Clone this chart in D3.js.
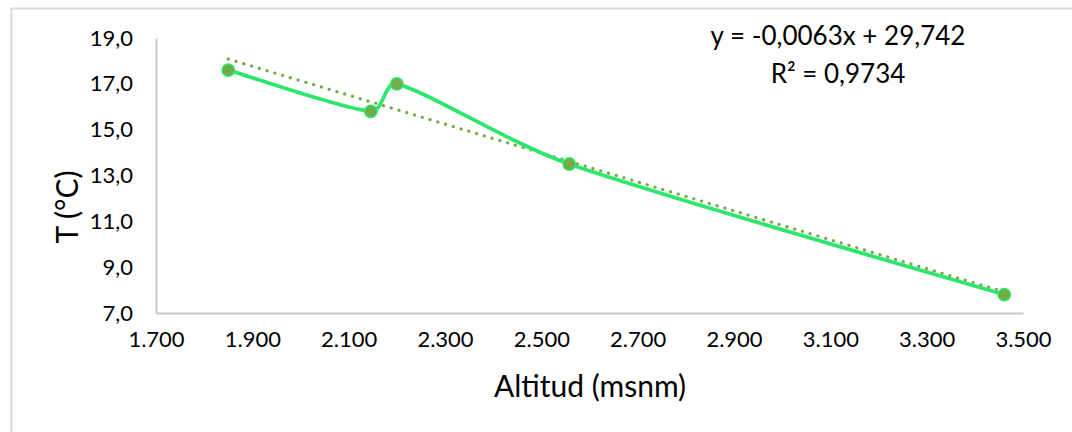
<!DOCTYPE html>
<html>
<head>
<meta charset="utf-8">
<script src="https://cdn.jsdelivr.net/npm/d3@7"></script>
<style>
  body { margin: 0; background: #fff; }
  text { font-family: Lato, "Open Sans", sans-serif; fill: #000; }
</style>
</head>
<body>
<div id="chart"></div>
<script>
// data
const altitud = [1850, 2146, 2200, 2558, 3461];
const temperatura = [17.6, 15.8, 17.0, 13.5, 7.8];
const xTicks = [1700, 1900, 2100, 2300, 2500, 2700, 2900, 3100, 3300, 3500];
const yTicks = [7, 9, 11, 13, 15, 17, 19];
const ecuacion = "y = -0,0063x + 29,742";
const r2Texto = "R² = 0,9734";

const width = 1072;
const height = 432;
const margin = { left: 156, right: 49, top: 38, bottom: 119 };

const svg = d3.select("#chart")
  .append("svg")
  .attr("width", width)
  .attr("height", height);

// chart frame (cropped on right and bottom)
svg.append("rect")
  .attr("x", 11.5).attr("y", 8.5)
  .attr("width", width + 10).attr("height", height + 10)
  .attr("fill", "none")
  .attr("stroke", "#d9d9d9")
  .attr("stroke-width", 2);

const x = d3.scaleLinear()
  .domain([1700, 3500])
  .range([margin.left, width - margin.right]);

const y = d3.scaleLinear()
  .domain([7, 19])
  .range([height - margin.bottom, margin.top]);

const locale = d3.formatLocale({ decimal: ",", thousands: ".", grouping: [3], currency: ["", ""] });
const fmtX = locale.format(",.0f");
const fmtY = locale.format(".1f");

// x axis
const xAxis = svg.append("g")
  .attr("transform", `translate(0,${y(7)})`)
  .call(d3.axisBottom(x).tickValues(xTicks).tickFormat(fmtX).tickSize(0).tickPadding(18));
xAxis.select(".domain").attr("stroke", "#c8c8c8").attr("stroke-width", 2);
xAxis.selectAll("text").attr("font-size", 22).attr("fill", "#000");

// y axis
const yAxis = svg.append("g")
  .attr("transform", `translate(${x(1700)},0)`)
  .call(d3.axisLeft(y).tickValues(yTicks).tickFormat(fmtY).tickSize(0).tickPadding(23));
yAxis.select(".domain").attr("stroke", "#c8c8c8").attr("stroke-width", 2);
yAxis.selectAll("text").attr("font-size", 22).attr("fill", "#000");

// axis titles
svg.append("text")
  .attr("x", 590).attr("y", 397)
  .attr("text-anchor", "middle")
  .attr("font-size", 30)
  .text("Altitud (msnm)");

svg.append("text")
  .attr("transform", "translate(78,207) rotate(-90)")
  .attr("text-anchor", "middle")
  .attr("font-size", 30)
  .text("T (°C)");

// linear trendline from least squares
const mx = d3.mean(altitud), my = d3.mean(temperatura);
let sxy = 0, sxx = 0;
altitud.forEach((a, i) => { sxy += (a - mx) * (temperatura[i] - my); sxx += (a - mx) ** 2; });
const pendiente = sxy / sxx;
const intercepto = my - pendiente * mx;
const xMin = d3.min(altitud), xMax = d3.max(altitud);

svg.append("line")
  .attr("x1", x(xMin)).attr("y1", y(intercepto + pendiente * xMin))
  .attr("x2", x(xMax)).attr("y2", y(intercepto + pendiente * xMax))
  .attr("stroke", "#70ad47")
  .attr("stroke-width", 3.2)
  .attr("stroke-linecap", "round")
  .attr("stroke-dasharray", "0.1 8");

// smoothed series line, excel-like: catmull-rom tangents, arms clamped to a third of the segment
const puntos = altitud.map((a, i) => [a, temperatura[i]]);
function suave(pts) {
  const p = pts.map(d => [x(d[0]), y(d[1])]);
  const n = p.length;
  const tang = p.map((d, i) => {
    const a = p[Math.max(i - 1, 0)], b = p[Math.min(i + 1, n - 1)];
    return [(b[0] - a[0]) / 6, (b[1] - a[1]) / 6];
  });
  const path = d3.path();
  path.moveTo(p[0][0], p[0][1]);
  for (let i = 0; i < n - 1; i++) {
    const L = Math.hypot(p[i + 1][0] - p[i][0], p[i + 1][1] - p[i][1]);
    const lim = (t) => {
      const m = Math.hypot(t[0], t[1]);
      const k = m > L / 3 ? (L / 3) / m : 1;
      return [t[0] * k, t[1] * k];
    };
    const t0 = lim(tang[i]), t1 = lim(tang[i + 1]);
    path.bezierCurveTo(
      p[i][0] + t0[0], p[i][1] + t0[1],
      p[i + 1][0] - t1[0], p[i + 1][1] - t1[1],
      p[i + 1][0], p[i + 1][1]
    );
  }
  return path.toString();
}

svg.append("path")
  .attr("d", suave(puntos))
  .attr("fill", "none")
  .attr("stroke", "#2ee66b")
  .attr("stroke-width", 3.8);

svg.append("g")
  .selectAll("circle")
  .data(puntos)
  .join("circle")
  .attr("cx", d => x(d[0]))
  .attr("cy", d => y(d[1]))
  .attr("r", 6.2)
  .attr("fill", "#70ad47")
  .attr("stroke", "#2ee66b")
  .attr("stroke-width", 1.5);

// equation labels
svg.append("text")
  .attr("x", 838).attr("y", 45)
  .attr("text-anchor", "middle")
  .attr("font-size", 26)
  .text(ecuacion);

svg.append("text")
  .attr("x", 838).attr("y", 83)
  .attr("text-anchor", "middle")
  .attr("font-size", 26)
  .text(r2Texto);
</script>
</body>
</html>
